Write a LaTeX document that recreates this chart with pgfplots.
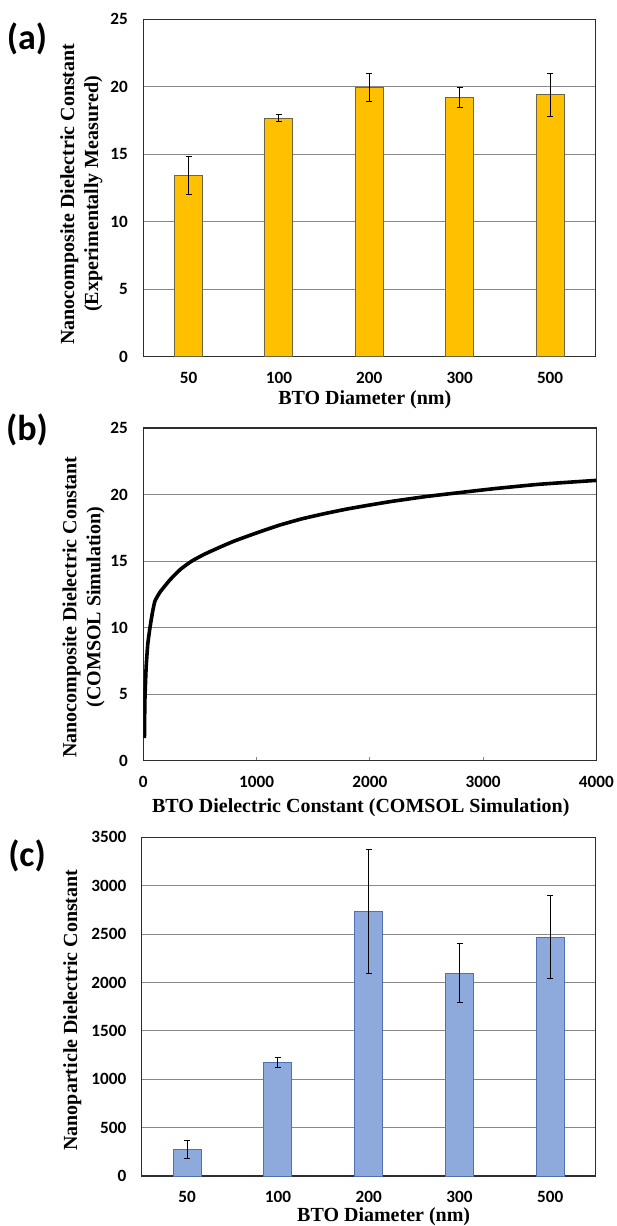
\documentclass[border=0pt]{standalone}
\usepackage{pgfplots}
\pgfplotsset{compat=1.18}
\usepackage{pgfplotstable}
\usepackage{fontspec}
\setmainfont{Liberation Serif}
\newfontfamily\calfont{Carlito}
\definecolor{gold}{RGB}{255,192,0}
\definecolor{goldedge}{RGB}{110,100,70}
\definecolor{bluefill}{RGB}{142,169,219}
\definecolor{blueedge}{RGB}{80,112,180}
\definecolor{gridc}{RGB}{135,135,135}
\definecolor{framec}{RGB}{45,45,45}

\pgfplotstableread{
x y e
0 13.45 1.40
1 17.68 0.25
2 19.94 1.02
3 19.23 0.73
4 19.42 1.60
}\dataA

\pgfplotstableread{
x y e
0 270 93
1 1172 52
2 2735 640
3 2098 302
4 2470 428
}\dataC

\pgfplotstableread{
x y
10 1.7
14 4.5
25 7.0
40 8.8
59 10.0
80 11.1
103 12.0
150 12.7
236 13.6
330 14.4
427 15.0
535 15.5
650 15.95
800 16.5
1000 17.12
1200 17.7
1400 18.18
1600 18.57
1800 18.92
2000 19.22
2200 19.5
2500 19.86
2800 20.16
3100 20.45
3500 20.78
4000 21.07
}\dataB

\pgfplotsset{
  common/.style={
    scale only axis,
    anchor=south west,
    axis line style={framec, line width=0.75pt},
    ymajorgrids,
    major grid style={gridc, line width=0.5pt},
    ticklabel style={font=\calfont\bfseries\fontsize{8.6}{10}\selectfont},
    /pgf/number format/assume math mode=true,
    /pgf/number format/1000 sep={},
    scaled ticks=false,
    yticklabel style={anchor=east, inner sep=0pt, xshift=-7.5pt},
    xticklabel style={anchor=base, inner sep=0pt, yshift=-13.3pt},
    label style={font=\bfseries\fontsize{10}{12}\selectfont},
    xlabel style={anchor=center},
    ylabel style={anchor=center, align=center},
  },
  barax/.style={
    common,
    xmin=-0.5, xmax=4.5,
    xtick=data,
    xticklabels={50,100,200,300,500},
    major tick length=0pt,
    ybar, bar width=14pt,
  },
}

\begin{document}
\begin{tikzpicture}
\path[use as bounding box] (0pt,0pt) rectangle (308pt,-613pt);

% (a)
\begin{axis}[barax,
  at={(71.65pt,-178.35pt)},
  width=226pt, height=168.7pt,
  ymin=0, ymax=25, ytick={0,5,...,25},
  xlabel={BTO Diameter (nm)},
  xlabel style={at={(axis description cs:0.49,-0.128)}},
  ylabel={Nanocomposite Dielectric Constant\\(Experimentally Measured)},
  ylabel style={at={(axis description cs:-0.137,0.482)}},
]
\addplot[fill=gold, draw=goldedge, line width=0.5pt,
  error bars/.cd, y dir=both, y explicit,
  error bar style={black, line width=0.5pt},
  error mark options={black, line width=0.5pt, mark size=1.5pt, rotate=90}]
  table[x=x, y=y, y error=e]{\dataA};
\end{axis}

% (b)
\begin{axis}[common,
  at={(71.65pt,-380.35pt)},
  width=226.5pt, height=166.3pt,
  xmin=0, xmax=4000, ymin=0, ymax=25,
  xtick={0,1000,...,4000}, ytick={0,5,...,25},
  xtick pos=bottom, ytick pos=left,
  tick align=inside,
  xtick style={gridc, line width=0.5pt},
  ytick style={draw=none},
  major tick length=2pt,
  xlabel={BTO Dielectric Constant (COMSOL Simulation)},
  xlabel style={at={(axis description cs:0.48,-0.142)}},
  ylabel={Nanocomposite Dielectric Constant\\(COMSOL Simulation)},
  ylabel style={at={(axis description cs:-0.132,0.462)}},
]
\addplot[black, line width=1.8pt, line join=round, smooth, tension=0.3] table[x=x, y=y]{\dataB};
\end{axis}

% (c)
\begin{axis}[barax,
  at={(70.85pt,-588pt)},
  width=227pt, height=169.3pt,
  ymin=0, ymax=3500, ytick={0,500,...,3500},
  xlabel={BTO Diameter (nm)},
  xlabel style={at={(axis description cs:0.533,-0.121)}},
  ylabel={Nanoparticle Dielectric Constant},
  ylabel style={at={(axis description cs:-0.153,0.49)}},
]
\addplot[fill=bluefill, draw=blueedge, line width=0.5pt,
  error bars/.cd, y dir=both, y explicit,
  error bar style={black, line width=0.5pt},
  error mark options={black, line width=0.5pt, mark size=1.5pt, rotate=90}]
  table[x=x, y=y, y error=e]{\dataC};
\end{axis}

\node[font=\calfont\bfseries\fontsize{18}{21}\selectfont] at (13.5pt,-19.5pt) {(a)};
\node[font=\calfont\bfseries\fontsize{18}{21}\selectfont] at (13.5pt,-215pt) {(b)};
\node[font=\calfont\bfseries\fontsize{18}{21}\selectfont] at (13.5pt,-428pt) {(c)};
\end{tikzpicture}
\end{document}
